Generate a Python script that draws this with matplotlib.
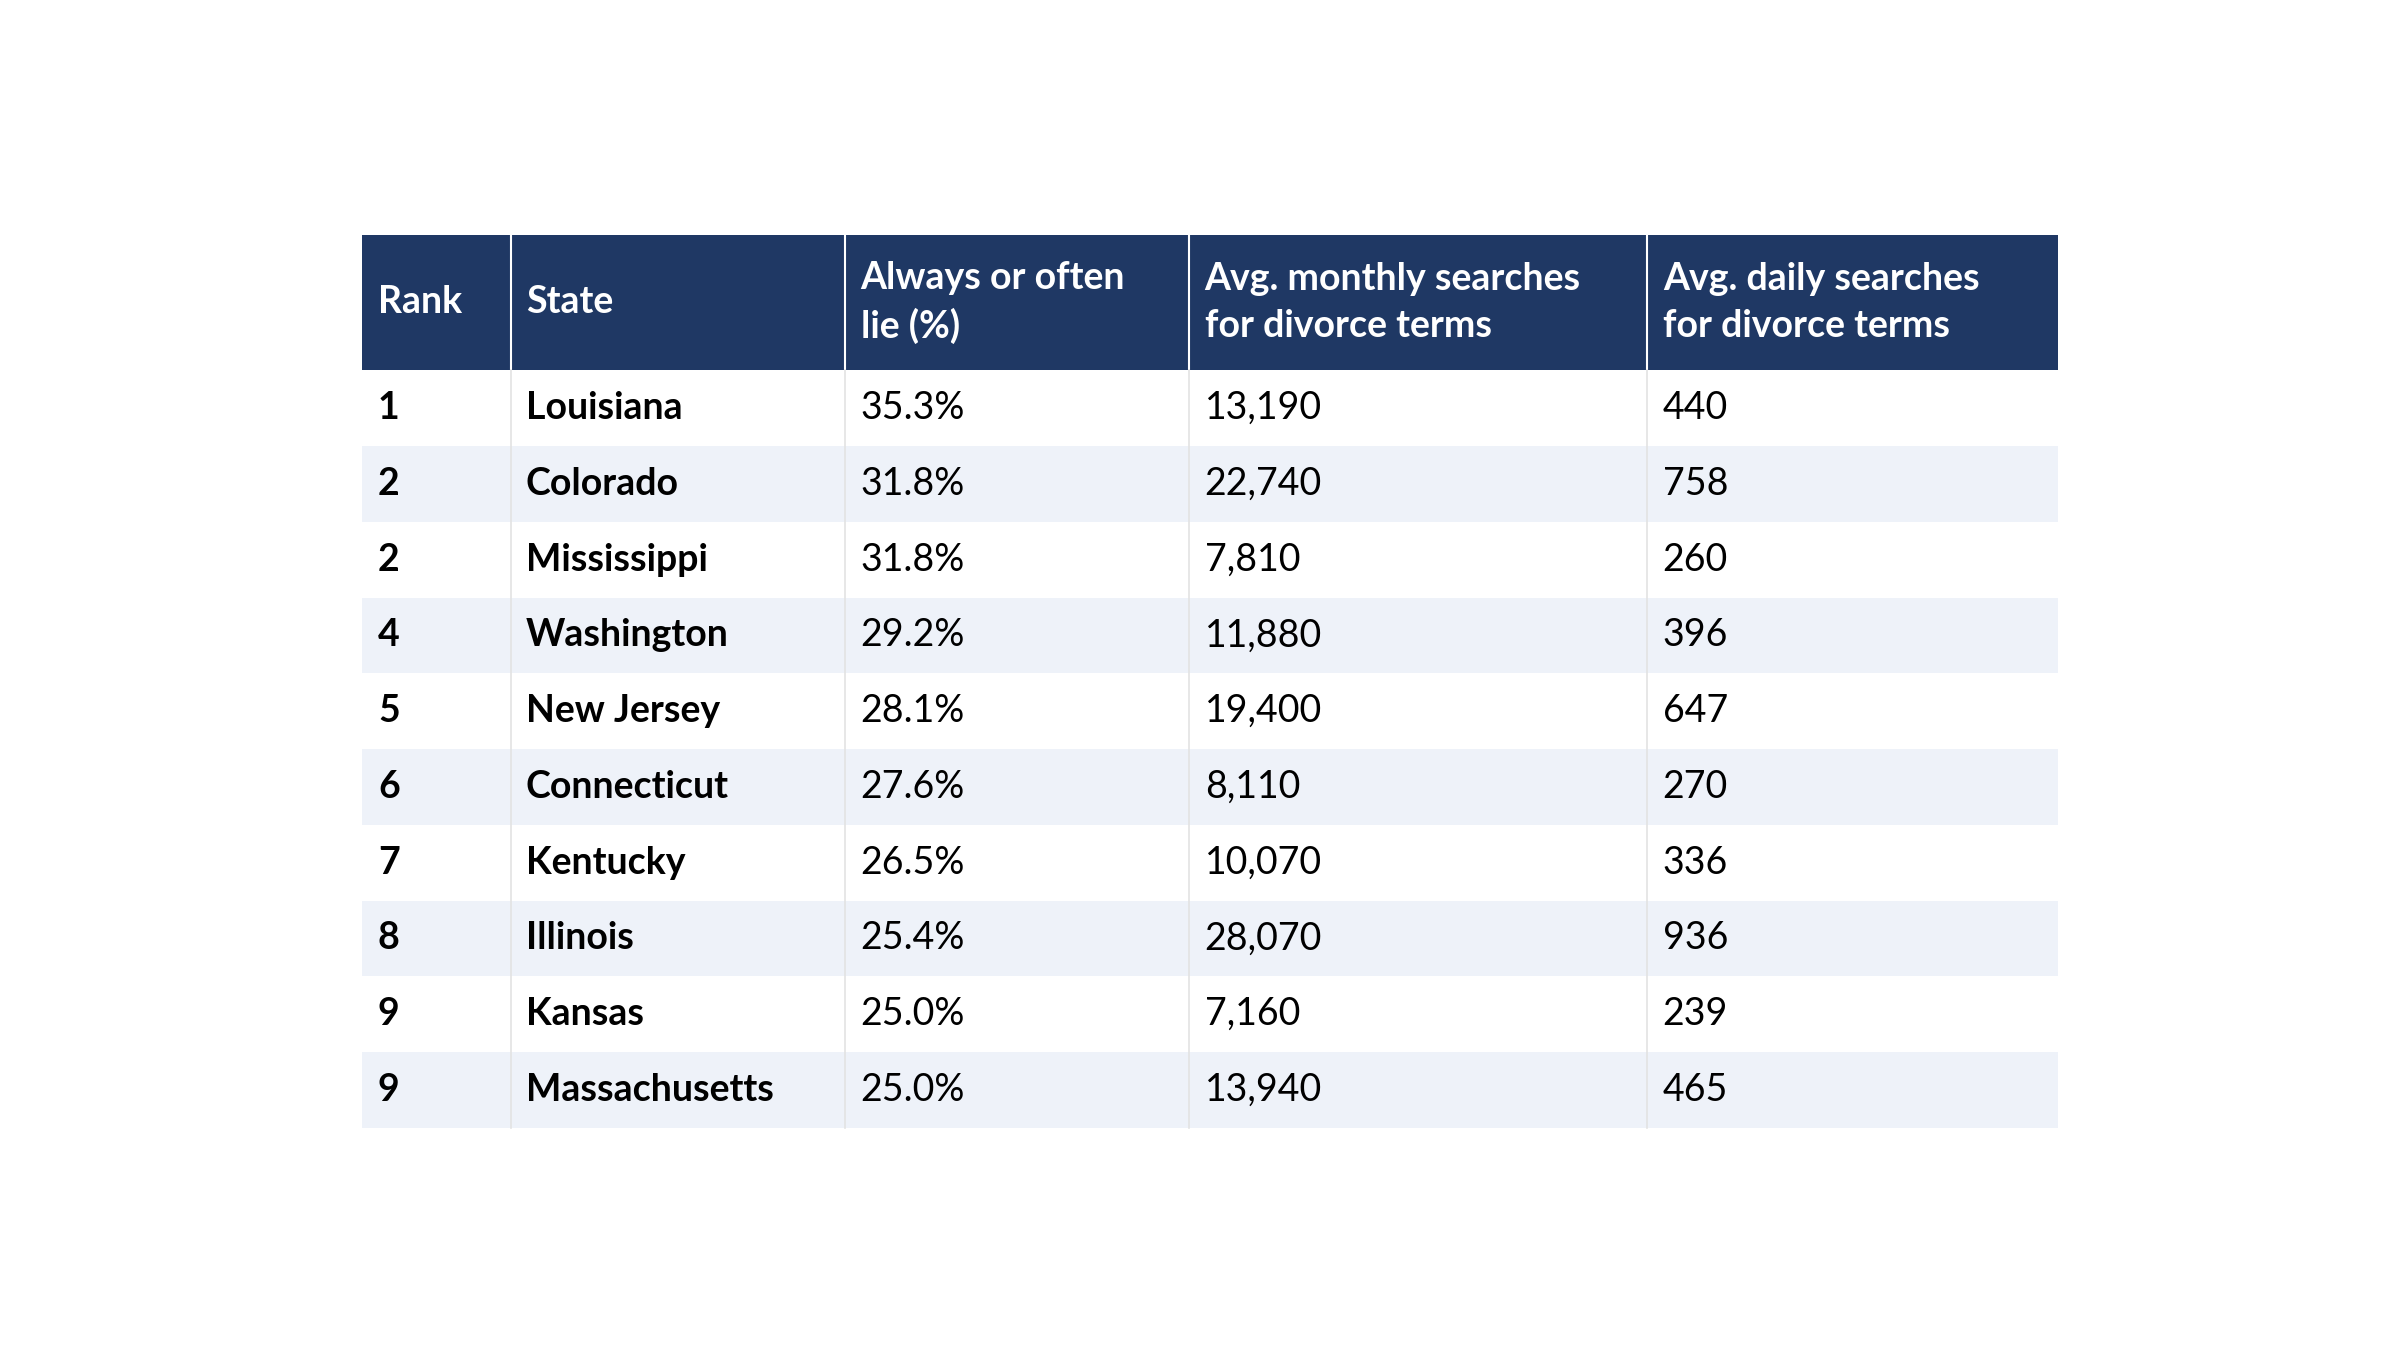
import matplotlib.pyplot as plt
from matplotlib.patches import Rectangle

headers = ["Rank", "State", "Always or often\nlie (%)", "Avg. monthly searches\nfor divorce terms", "Avg. daily searches\nfor divorce terms"]
ranks = ["1", "2", "2", "4", "5", "6", "7", "8", "9", "9"]
states = ["Louisiana", "Colorado", "Mississippi", "Washington", "New Jersey",
          "Connecticut", "Kentucky", "Illinois", "Kansas", "Massachusetts"]
lie_pct = [35.3, 31.8, 31.8, 29.2, 28.1, 27.6, 26.5, 25.4, 25.0, 25.0]
monthly = [13190, 22740, 7810, 11880, 19400, 8110, 10070, 28070, 7160, 13940]
daily = [440, 758, 260, 396, 647, 270, 336, 936, 239, 465]

col_edges = [235, 331, 548, 771, 1068, 1334]
W, H = 1556, 875
top, head_bot, bottom = 152, 240, 731
header_color = "#1f3864"
stripe = "#eef2f9"

plt.rcParams['font.family'] = ['Lato', 'DejaVu Sans']
fig = plt.figure(figsize=(24, 13.5), dpi=100)
ax = fig.add_axes([0, 0, 1, 1])
ax.set_xlim(0, W)
ax.set_ylim(H, 0)
ax.axis('off')

fs = 27
# header
ax.add_patch(Rectangle((col_edges[0], top), col_edges[-1] - col_edges[0], head_bot - top,
                       color=header_color, lw=0))
for i, h in enumerate(headers):
    ax.text(col_edges[i] + 10, (top + head_bot) / 2, h, color="white", fontsize=fs,
            fontweight="bold", va="center", ha="left", linespacing=1.45)
    if i > 0:
        ax.plot([col_edges[i]] * 2, [top, head_bot], color="white", lw=1.5)

n = len(states)
rh = (bottom - head_bot) / n
for r in range(n):
    y0 = head_bot + r * rh
    ax.add_patch(Rectangle((col_edges[0], y0), col_edges[-1] - col_edges[0], rh,
                           color="white" if r % 2 == 0 else stripe, lw=0))
    vals = [ranks[r], states[r], f"{lie_pct[r]:.1f}%", f"{monthly[r]:,}", f"{daily[r]}"]
    for i, v in enumerate(vals):
        ax.text(col_edges[i] + 10, y0 + rh / 2, v, color="black", fontsize=fs,
                fontweight="bold" if i < 2 else "normal", va="center", ha="left")
for i in range(1, len(col_edges) - 1):
    ax.plot([col_edges[i]] * 2, [head_bot, bottom], color="#e3e3e3", lw=1.2)

fig.savefig("out.png", dpi=100, facecolor="white")
